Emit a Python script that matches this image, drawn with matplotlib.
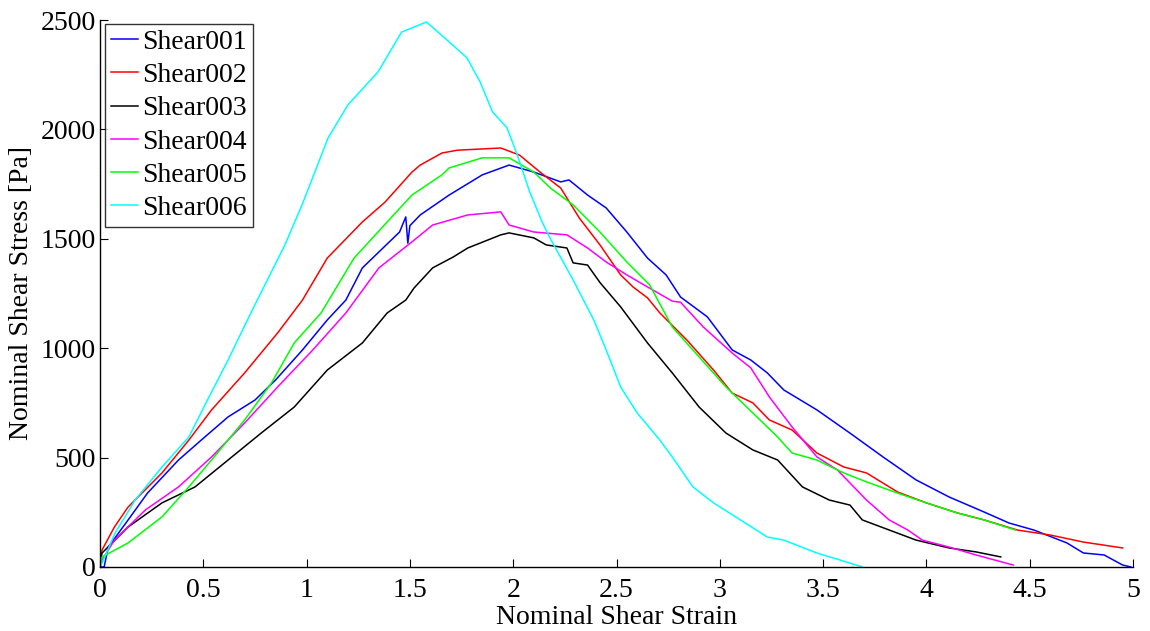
import matplotlib
matplotlib.use("Agg")
import matplotlib.pyplot as plt

plt.rcParams['font.family'] = ['Liberation Serif', 'DejaVu Serif']

# Shear001 (blue)
s1_x = [0.0, 0.02, 0.04, 0.136, 0.23, 0.38, 0.49, 0.62, 0.75, 0.85, 0.98, 1.10, 1.19, 1.27,
        1.45, 1.48, 1.49, 1.50, 1.55, 1.69, 1.85, 1.98, 2.10, 2.23, 2.27, 2.36, 2.45, 2.55,
        2.65, 2.74, 2.81, 2.94, 3.06, 3.15, 3.23, 3.31, 3.47, 3.63, 3.79, 3.95, 4.11, 4.28,
        4.40, 4.52, 4.68, 4.76, 4.86, 4.95, 4.99]
s1_y = [0, 0, 91, 215, 338, 489, 580, 686, 763, 855, 992, 1129, 1220, 1367,
        1531, 1600, 1480, 1560, 1609, 1700, 1792, 1837, 1805, 1760, 1769, 1700, 1641, 1531,
        1412, 1335, 1234, 1143, 992, 946, 887, 809, 718, 612, 503, 398, 320, 251,
        201, 169, 110, 64, 55, 9, 0]

# Shear002 (red)
s2_x = [0.0, 0.01, 0.07, 0.136, 0.30, 0.43, 0.54, 0.70, 0.86, 0.98, 1.10, 1.27, 1.38, 1.51,
        1.55, 1.655, 1.73, 1.94, 2.03, 2.13, 2.23, 2.32, 2.42, 2.52, 2.58, 2.65, 2.71, 2.84,
        2.97, 3.06, 3.16, 3.24, 3.35, 3.47, 3.60, 3.71, 3.86, 4.00, 4.15, 4.28, 4.44, 4.60,
        4.76, 4.95]
s2_y = [30, 78, 183, 274, 430, 580, 718, 887, 1070, 1220, 1412, 1577, 1668, 1805,
        1837, 1892, 1905, 1915, 1883, 1805, 1732, 1595, 1472, 1335, 1280, 1230, 1161, 1038,
        900, 795, 750, 672, 626, 521, 457, 430, 343, 293, 247, 215, 169, 146,
        114, 87]

# Shear003 (black)
s3_x = [0.0, 0.01, 0.136, 0.30, 0.46, 0.62, 0.78, 0.94, 1.10, 1.27, 1.39, 1.48, 1.52, 1.61,
        1.71, 1.78, 1.94, 1.98, 2.10, 2.16, 2.26, 2.29, 2.36, 2.42, 2.52, 2.65, 2.77, 2.90,
        3.03, 3.16, 3.28, 3.40, 3.53, 3.63, 3.69, 3.82, 3.95, 4.11, 4.24, 4.36]
s3_y = [20, 64, 183, 293, 366, 489, 612, 731, 900, 1024, 1161, 1220, 1275, 1367,
        1417, 1458, 1518, 1527, 1504, 1472, 1458, 1390, 1380, 1300, 1189, 1024, 887, 731,
        612, 535, 489, 366, 306, 283, 215, 169, 123, 87, 69, 46]

# Shear004 (magenta)
s4_x = [0.0, 0.01, 0.07, 0.22, 0.38, 0.54, 0.70, 0.86, 1.03, 1.19, 1.35, 1.51, 1.61, 1.78,
        1.94, 1.98, 2.10, 2.26, 2.36, 2.45, 2.55, 2.65, 2.77, 2.81, 2.92, 3.06, 3.15, 3.24,
        3.35, 3.47, 3.57, 3.63, 3.71, 3.82, 3.91, 3.98, 4.11, 4.24, 4.42]
s4_y = [0, 32, 123, 261, 366, 503, 658, 823, 992, 1161, 1367, 1486, 1563, 1609,
        1623, 1563, 1531, 1518, 1458, 1394, 1335, 1280, 1215, 1210, 1097, 978, 910, 777,
        640, 503, 443, 384, 306, 215, 169, 123, 91, 55, 9]

# Shear005 (green)
s5_x = [0.0, 0.01, 0.136, 0.30, 0.43, 0.54, 0.70, 0.83, 0.94, 1.07, 1.23, 1.39, 1.51, 1.655,
        1.69, 1.85, 1.98, 2.10, 2.18, 2.29, 2.42, 2.55, 2.66, 2.77, 2.90, 3.03, 3.16, 3.28,
        3.35, 3.47, 3.60, 3.71, 3.86, 4.00, 4.15, 4.28, 4.43]
s5_y = [10, 46, 110, 229, 366, 489, 672, 841, 1024, 1161, 1412, 1577, 1700, 1792,
        1824, 1870, 1870, 1805, 1732, 1655, 1531, 1394, 1290, 1097, 960, 823, 704, 594,
        521, 489, 430, 389, 338, 293, 247, 215, 169]

# Shear006 (cyan)
s6_x = [0.0, 0.01, 0.073, 0.17, 0.30, 0.43, 0.52, 0.62, 0.73, 0.895, 0.978, 1.104, 1.20, 1.346,
        1.46, 1.58, 1.69, 1.776, 1.84, 1.90, 1.97, 2.02, 2.08, 2.14, 2.18, 2.29, 2.39, 2.45,
        2.52, 2.60, 2.71, 2.77, 2.87, 2.97, 3.10, 3.23, 3.31, 3.47, 3.63, 3.69]
s6_y = [0, 18, 155, 306, 457, 594, 763, 946, 1161, 1472, 1655, 1961, 2112, 2263,
        2445, 2491, 2400, 2327, 2217, 2080, 2007, 1883, 1714, 1577, 1500, 1312, 1129, 992,
        823, 704, 580, 503, 366, 293, 215, 137, 123, 64, 18, 0]

series = [
    ("Shear001", s1_x, s1_y, (0, 0, 1)),
    ("Shear002", s2_x, s2_y, (1, 0, 0)),
    ("Shear003", s3_x, s3_y, (0, 0, 0)),
    ("Shear004", s4_x, s4_y, (1, 0, 1)),
    ("Shear005", s5_x, s5_y, (0, 1, 0)),
    ("Shear006", s6_x, s6_y, (0, 1, 1)),
]

x_ticks = [0, 0.5, 1, 1.5, 2, 2.5, 3, 3.5, 4, 4.5, 5]
x_ticklabels = ["0", "0.5", "1", "1.5", "2", "2.5", "3", "3.5", "4", "4.5", "5"]
y_ticks = [0, 500, 1000, 1500, 2000, 2500]
y_ticklabels = ["0", "500", "1000", "1500", "2000", "2500"]

W, H = 1150, 631
fig = plt.figure(figsize=(W / 100, H / 100), dpi=100)
ax = fig.add_axes([100 / W, 64 / H, 1033 / W, 547 / H])

for name, xs, ys, c in series:
    ax.plot(xs, ys, color=c, lw=1.1, label=name)

ax.set_xlim(0, 5)
ax.set_ylim(0, 2500)
ax.set_xticks(x_ticks)
ax.set_xticklabels(x_ticklabels)
ax.set_yticks(y_ticks)
ax.set_yticklabels(y_ticklabels)
ax.tick_params(direction='in', length=6, width=0.8, labelsize=20)
ax.tick_params(axis='x', pad=8)
ax.tick_params(axis='y', pad=3)
ax.spines['top'].set_visible(False)
ax.spines['right'].set_visible(False)
for s in ['left', 'bottom']:
    ax.spines[s].set_linewidth(1.0)

ax.set_xlabel("Nominal Shear Strain", fontsize=20, labelpad=1)
ax.set_ylabel("Nominal Shear Stress [Pa]", fontsize=20, labelpad=5)

leg = ax.legend(loc='upper left', bbox_to_anchor=(105 / W, 1 - 24 / H),
                bbox_transform=fig.transFigure, fontsize=20,
                frameon=True, fancybox=False, handlelength=1.0, handletextpad=0.15,
                borderpad=0.2, labelspacing=0.28, borderaxespad=0.0)
leg.get_frame().set_edgecolor('black')
leg.get_frame().set_linewidth(1.0)

fig.savefig("out.png", dpi=100)
